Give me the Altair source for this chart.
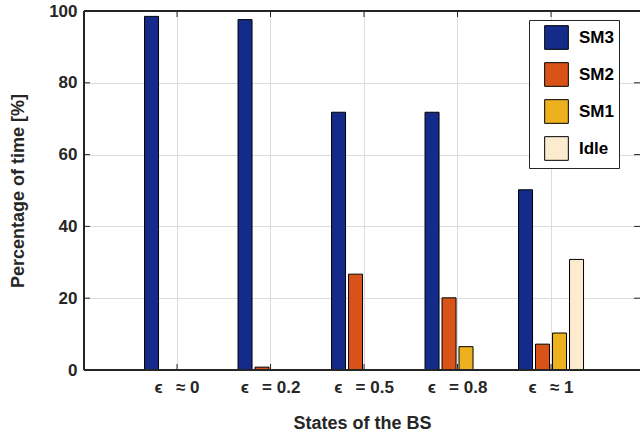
import altair as alt
import pandas as pd

states = ["ϵ\u2002 ≈ 0", "ϵ\u2002 = 0.2", "ϵ\u2002 = 0.5", "ϵ\u2002 = 0.8", "ϵ\u2002 ≈ 1"]
series = ["SM3", "SM2", "SM1", "Idle"]
sm3 = [98.5, 97.6, 71.8, 71.8, 50.2]
sm2 = [0.0, 0.8, 26.7, 20.1, 7.2]
sm1 = [0.0, 0.0, 0.0, 6.5, 10.3]
idle = [0.0, 0.0, 0.0, 0.0, 30.8]
y_ticks = [0, 20, 40, 60, 80, 100]
colors = ["#142B8A", "#D95319", "#EDB120", "#FDEBD0"]

rows = []
for s, vals in zip(series, [sm3, sm2, sm1, idle]):
    for st, v in zip(states, vals):
        rows.append({"state": st, "series": s, "value": v})
df = pd.DataFrame(rows)
df_states = pd.DataFrame({"state": states})
df_yt = pd.DataFrame({"value": y_ticks})

W, H = 556, 359
FONT = "Liberation Sans"
DARK = "#262626"

xscale = alt.Scale(domain=states, paddingInner=0, paddingOuter=0.4733, align=0.523)
yscale = alt.Scale(domain=[0, 100], nice=False)

xaxis = alt.Axis(title="States of the BS", labelAngle=0, ticks=False, domain=False,
                 grid=True, bandPosition=0.5, gridColor="#dcdcdc", gridWidth=1,
                 labelFont=FONT, labelFontSize=17, labelFontWeight="bold",
                 labelColor=DARK, labelPadding=9,
                 titleFont=FONT, titleFontSize=18, titleFontWeight="bold",
                 titleColor=DARK, titleY=58, titleBaseline="alphabetic")
yaxis = alt.Axis(title="Percentage of time [%]", values=y_ticks, ticks=False,
                 domain=False, grid=True, gridColor="#dcdcdc", gridWidth=1,
                 labelFont=FONT, labelFontSize=17, labelFontWeight="bold",
                 labelColor=DARK, labelPadding=7,
                 titleFont=FONT, titleFontSize=18, titleFontWeight="bold",
                 titleColor=DARK, titleX=-57)

X = alt.X("state:N", sort=states, scale=xscale, axis=xaxis)
Y = alt.Y("value:Q", scale=yscale, axis=yaxis)

bars = alt.Chart(df).transform_filter("datum.value > 0").mark_bar(
    stroke="black", strokeWidth=1
).encode(
    x=X,
    xOffset=alt.XOffset("series:N", sort=series,
                        scale=alt.Scale(domain=series, paddingInner=0.176, paddingOuter=0.838)),
    y=Y,
    color=alt.Color("series:N", sort=series,
                    scale=alt.Scale(domain=series, range=colors),
                    legend=alt.Legend(title=None, orient="none", legendX=445, legendY=9,
                                      symbolType="square", symbolSize=560,
                                      symbolStrokeColor="black", symbolStrokeWidth=1,
                                      symbolOpacity=1, symbolOffset=10,
                                      labelFont=FONT, labelFontSize=17, labelFontWeight="bold",
                                      labelColor="black", labelOffset=10,
                                      labelExpr="datum.label + '\u2003\u2003'",
                                      rowPadding=8, padding=5,
                                      strokeColor=DARK, fillColor="white")),
)

tick_b = alt.Chart(df_states).mark_rule(color=DARK, strokeWidth=1).encode(
    x=X, y=alt.value(H), y2=alt.value(H - 6))
tick_t = alt.Chart(df_states).mark_rule(color=DARK, strokeWidth=1).encode(
    x=X, y=alt.value(0), y2=alt.value(6))
tick_l = alt.Chart(df_yt).mark_rule(color=DARK, strokeWidth=1).encode(
    y=Y, x=alt.value(0), x2=alt.value(6))
tick_r = alt.Chart(df_yt).mark_rule(color=DARK, strokeWidth=1).encode(
    y=Y, x=alt.value(W - 6), x2=alt.value(W))
frame_h = alt.Chart(df_states).mark_rule(color=DARK, strokeWidth=1.5).encode(
    x=alt.value(0), x2=alt.value(W), y=alt.value(0))
frame_b = alt.Chart(df_states).mark_rule(color=DARK, strokeWidth=1.5).encode(
    x=alt.value(0), x2=alt.value(W), y=alt.value(H))
frame_l = alt.Chart(df_states).mark_rule(color=DARK, strokeWidth=1.5).encode(
    y=alt.value(0), y2=alt.value(H), x=alt.value(0))

chart = alt.layer(bars, tick_b, tick_t, tick_l, tick_r, frame_h, frame_b, frame_l).properties(
    width=W, height=H,
    autosize=alt.AutoSizeParams(type="none"),
    padding={"left": 84, "top": 11, "right": 0, "bottom": 64},
).configure_view(stroke=None).configure(background="white")

chart.save("out.html", embed_options={"renderer": "svg", "actions": False})
